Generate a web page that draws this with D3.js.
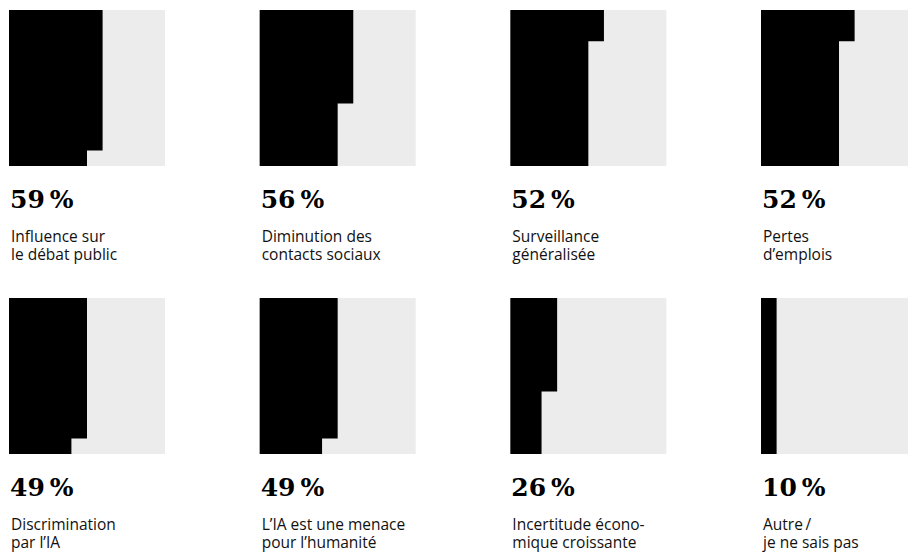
<!DOCTYPE html>
<html lang="fr">
<head>
<meta charset="utf-8">
<script src="https://cdn.jsdelivr.net/npm/d3@7"></script>
<style>
  html, body { margin: 0; padding: 0; background: #fff; overflow: hidden; }
  .value { font-family: "DejaVu Serif", serif; font-weight: bold; fill: #000; }
  .label { font-family: "Open Sans", sans-serif; fill: #111; }
</style>
</head>
<body>
<div id="vis"></div>
<script>
// share of respondents (%) per concern
const values = [59, 56, 52, 52, 49, 49, 26, 10];

// label lines, as broken in the original
const labels = [
  ["Influence sur", "le débat public"],
  ["Diminution des", "contacts sociaux"],
  ["Surveillance", "généralisée"],
  ["Pertes", "d’emplois"],
  ["Discrimination", "par l’IA"],
  ["L’IA est une menace", "pour l’humanité"],
  ["Incertitude écono-", "mique croissante"],
  ["Autre\u2009/", "je ne sais pas"],
];

////////////////////////////////////////
/////////////// Defaults ///////////////
////////////////////////////////////////

const options = {
  width: 908,
  height: 552,
  columns: 4,
  size: 156, // side of one square
  stepX: 250.67,
  stepY: 288,
  left: 9,
  top: 10,
  fill: "#000",
  empty: "#ececec",
};

////////////////////////////////////////
////////////// SVG Setup ///////////////
////////////////////////////////////////

const svg = d3
  .select("#vis")
  .append("svg")
  .attr("width", options.width)
  .attr("height", options.height)
  .attr("viewBox", `0 0 ${options.width} ${options.height}`);

////////////////////////////////////////
////////////// Scales //////////////////
////////////////////////////////////////

// 10 x 10 grid, filled column by column, top to bottom
const cell = d3.scaleLinear().domain([0, 10]).range([0, options.size]);

const data = values.map((v, i) => ({
  value: v,
  lines: labels[i],
  col: i % options.columns,
  row: Math.floor(i / options.columns),
}));

// outline of the filled cells: full columns plus the partial one
function filledPath(v) {
  const full = Math.floor(v / 10);
  const rest = v % 10;
  const p = d3.path();
  p.moveTo(0, 0);
  p.lineTo(cell(full + (rest ? 1 : 0)), 0);
  if (rest) {
    p.lineTo(cell(full + 1), cell(rest));
    p.lineTo(cell(full), cell(rest));
  }
  p.lineTo(cell(full), cell(10));
  p.lineTo(0, cell(10));
  p.closePath();
  return p.toString();
}

////////////////////////////////////////
////////////// DOM Setup ///////////////
////////////////////////////////////////

const groups = svg
  .selectAll(".item")
  .data(data)
  .join("g")
  .attr("class", "item")
  .attr(
    "transform",
    (d) =>
      `translate(${options.left + d.col * options.stepX},${options.top + d.row * options.stepY})`
  );

// empty square
groups
  .append("rect")
  .attr("width", options.size)
  .attr("height", options.size)
  .attr("fill", options.empty);

// filled cells
groups
  .append("path")
  .attr("d", (d) => filledPath(d.value))
  .attr("fill", options.fill);

// value
groups
  .append("text")
  .attr("class", "value")
  .attr("x", 1)
  .attr("y", options.size + 42)
  .style("font-size", "25px")
  .text((d) => `${d.value}\u2009%`);

// label
groups
  .append("text")
  .attr("class", "label")
  .style("font-size", "15.5px")
  .selectAll("tspan")
  .data((d) => d.lines)
  .join("tspan")
  .attr("x", 2)
  .attr("y", (d, i) => options.size + 76 + i * 18)
  .text((d) => d);
</script>
</body>
</html>
